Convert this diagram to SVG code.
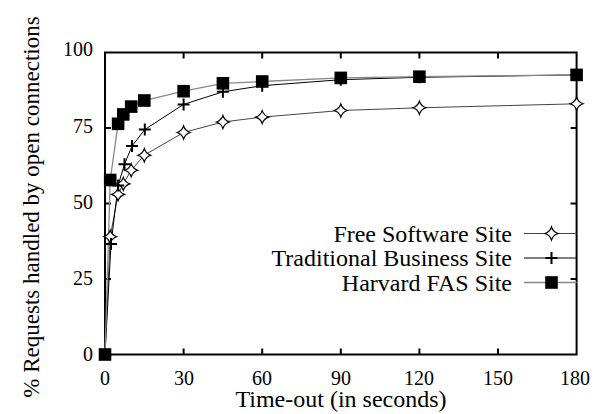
<svg xmlns="http://www.w3.org/2000/svg" width="603" height="414" viewBox="0 0 603 414">
<defs>
<path id="dia" d="M0,-6.5 Q1.6,-1.6 6.5,0 Q1.6,1.6 0,6.5 Q-1.6,1.6 -6.5,0 Q-1.6,-1.6 0,-6.5Z" fill="#fff" stroke="#000" stroke-width="1.2"/>
<path id="plus" d="M-6,0H6M0,-6V6" stroke="#000" stroke-width="2"/>
<rect id="sq" x="-6.3" y="-6.3" width="12.6" height="12.6" fill="#000"/>
</defs>
<g id="axes">
<rect x="105" y="52.5" width="471.6" height="302" fill="none" stroke="#000" stroke-width="2"/>
<path stroke="#000" stroke-width="2" d="M183.6,354.5v-6M262.2,354.5v-6M340.8,354.5v-6M419.4,354.5v-6M498,354.5v-6M183.6,52.5v6M262.2,52.5v6M340.8,52.5v6M419.4,52.5v6M498,52.5v6M105,279h6M105,203.5h6M105,128h6M576.6,279h-6M576.6,203.5h-6M576.6,128h-6"/>
<text x="93" y="361" text-anchor="end" font-family="Liberation Serif" font-size="20">0</text>
<text x="93" y="285" text-anchor="end" font-family="Liberation Serif" font-size="20">25</text>
<text x="93" y="209" text-anchor="end" font-family="Liberation Serif" font-size="20">50</text>
<text x="93" y="133" text-anchor="end" font-family="Liberation Serif" font-size="20">75</text>
<text x="93" y="56" text-anchor="end" font-family="Liberation Serif" font-size="20">100</text>
<text x="105" y="385" text-anchor="middle" font-family="Liberation Serif" font-size="20">0</text>
<text x="184" y="385" text-anchor="middle" font-family="Liberation Serif" font-size="20">30</text>
<text x="262" y="385" text-anchor="middle" font-family="Liberation Serif" font-size="20">60</text>
<text x="341" y="385" text-anchor="middle" font-family="Liberation Serif" font-size="20">90</text>
<text x="419" y="385" text-anchor="middle" font-family="Liberation Serif" font-size="20">120</text>
<text x="498" y="385" text-anchor="middle" font-family="Liberation Serif" font-size="20">150</text>
<text x="575" y="385" text-anchor="middle" font-family="Liberation Serif" font-size="20">180</text>
<text x="341" y="407" text-anchor="middle" font-family="Liberation Serif" font-size="24">Time-out (in seconds)</text>
<text transform="translate(39,207) rotate(-90)" text-anchor="middle" font-family="Liberation Serif" font-size="23">% Requests handled by open connections</text>
</g>
<g id="connectors" fill="none">
<polyline stroke="#444" stroke-width="1" points="105,354.5 110.2,236.7 118.1,194.4 123.3,183.9 131.2,170.3 144.3,155.2 183.6,132.5 222.9,122 262.2,117.1 340.8,110.5 419.4,107.8 576.6,103.8"/>
<polyline stroke="#000" stroke-width="1" points="105,354.5 111,244 118.1,185.4 124.5,164.2 132,146.1 144.8,129.5 183.6,104.4 222.9,91.8 262.2,85.7 340.8,79.7 419.4,77.3 576.6,74.9"/>
<polyline stroke="#888" stroke-width="1.3" points="105,354.5 110.2,180 118.1,123.8 123.3,114.4 131.2,106.6 144.3,100.5 183.6,91.2 222.9,83.3 262.2,81.5 340.8,77.9 419.4,76.7 576.6,74.9"/>
<path stroke="#444" stroke-width="1" d="M524,233.5H576.6"/>
<path stroke="#000" stroke-width="1" d="M524,258H576.6"/>
<path stroke="#888" stroke-width="1.3" d="M524,282.5H576.6"/>
</g>
<g id="series-free">
<use href="#dia" x="110.2" y="236.7"/><use href="#dia" x="118.1" y="194.4"/><use href="#dia" x="123.3" y="183.9"/><use href="#dia" x="131.2" y="170.3"/><use href="#dia" x="144.3" y="155.2"/><use href="#dia" x="183.6" y="132.5"/><use href="#dia" x="222.9" y="122"/><use href="#dia" x="262.2" y="117.1"/><use href="#dia" x="340.8" y="110.5"/><use href="#dia" x="419.4" y="107.8"/><use href="#dia" x="576.6" y="103.8"/>
</g>
<g id="series-trad">
<use href="#plus" x="111" y="244"/><use href="#plus" x="118.1" y="185.4"/><use href="#plus" x="124.5" y="164.2"/><use href="#plus" x="132" y="146.1"/><use href="#plus" x="144.8" y="129.5"/><use href="#plus" x="183.6" y="104.4"/><use href="#plus" x="222.9" y="91.8"/><use href="#plus" x="262.2" y="85.7"/><use href="#plus" x="340.8" y="79.7"/><use href="#plus" x="419.4" y="77.3"/><use href="#plus" x="576.6" y="74.9"/>
</g>
<g id="series-harvard">
<use href="#sq" x="105" y="354.5"/><use href="#sq" x="110.2" y="180"/><use href="#sq" x="118.1" y="123.8"/><use href="#sq" x="123.3" y="114.4"/><use href="#sq" x="131.2" y="106.6"/><use href="#sq" x="144.3" y="100.5"/><use href="#sq" x="183.6" y="91.2"/><use href="#sq" x="222.9" y="83.3"/><use href="#sq" x="262.2" y="81.5"/><use href="#sq" x="340.8" y="77.9"/><use href="#sq" x="419.4" y="76.7"/><use href="#sq" x="576.6" y="74.9"/>
</g>
<g id="legend">
<text x="512" y="241.5" text-anchor="end" font-family="Liberation Serif" font-size="24">Free Software Site</text>
<text x="512" y="266" text-anchor="end" font-family="Liberation Serif" font-size="24">Traditional Business Site</text>
<text x="512" y="290.5" text-anchor="end" font-family="Liberation Serif" font-size="24">Harvard FAS Site</text>
<use href="#dia" x="551.5" y="233.5"/>
<use href="#plus" x="551.5" y="258"/>
<use href="#sq" x="551.5" y="282.5"/>
</g>
</svg>
